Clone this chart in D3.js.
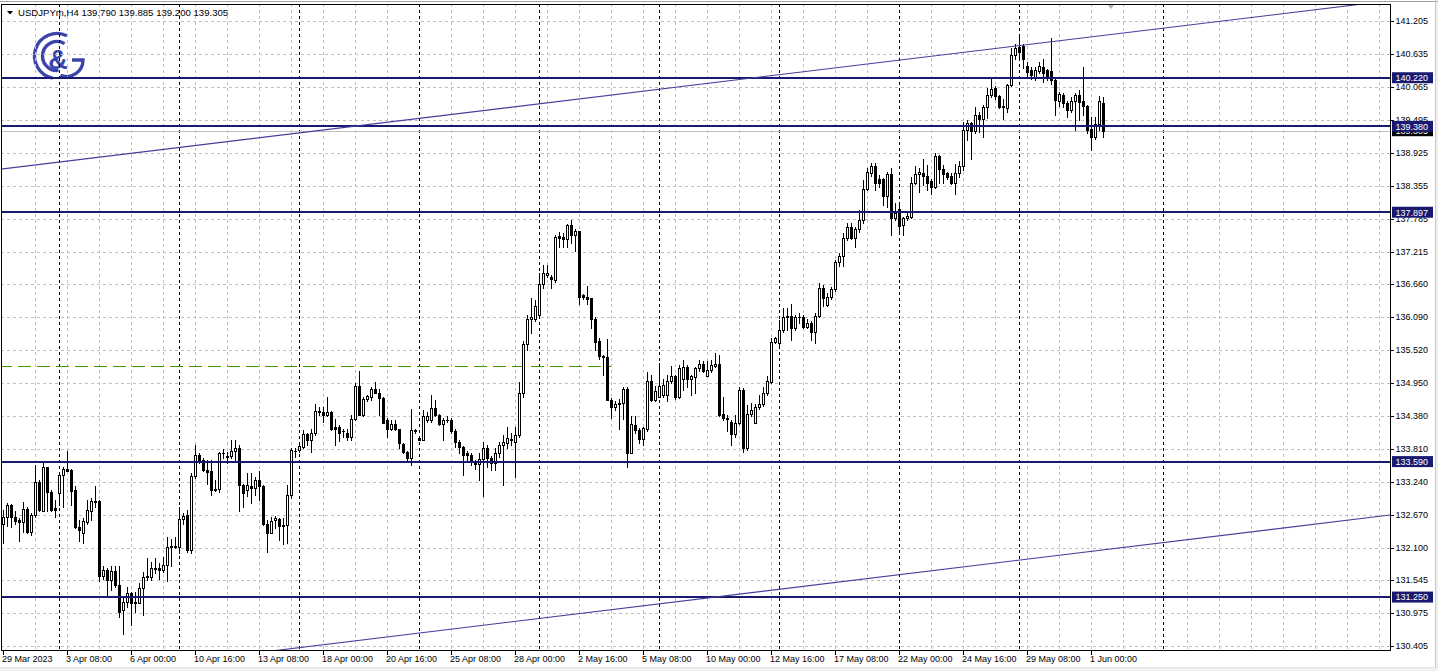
<!DOCTYPE html>
<html><head><meta charset="utf-8">
<script src="https://cdn.jsdelivr.net/npm/d3@7"></script>
<style>
html,body{margin:0;padding:0;background:#fff;overflow:hidden;}
svg{display:block;font-family:"Liberation Sans",Arial,sans-serif;}
</style></head><body>
<svg id="c" width="1438" height="671"></svg>
<script>
// ---------------- data ----------------
const symbolName = "USDJPYm,H4";
const headerValues = ["139.790", "139.885", "139.200", "139.305"];

const open = [
132.52,132.64,132.84,132.64,132.58,132.55,132.77,132.38,132.67,133.24,
132.74,133.49,133.07,132.78,133.04,133.36,133.47,133.45,133.10,132.46,
132.35,132.55,132.74,132.91,132.91,131.61,131.71,131.55,131.70,131.46,
131.03,131.17,131.32,131.17,131.15,131.40,131.59,131.60,131.74,131.75,
131.71,131.80,132.12,132.13,132.12,132.59,132.67,132.06,133.34,133.70,
133.62,133.45,133.42,133.10,133.11,133.73,133.67,133.69,133.78,133.82,
133.19,133.10,133.16,133.13,133.27,133.16,132.52,132.36,132.58,132.59,
132.48,132.50,133.01,133.77,133.79,133.85,134.06,133.97,134.08,134.46,
134.44,134.39,134.44,134.19,134.19,134.12,134.09,134.01,134.32,134.90,
134.40,134.67,134.71,134.84,134.78,134.68,134.31,134.16,134.24,134.15,
133.89,133.76,133.65,134.14,133.99,133.97,134.30,134.30,134.51,134.40,
134.24,134.31,134.31,134.11,133.92,133.84,133.74,133.70,133.59,133.55,
133.63,133.82,133.66,133.56,133.73,133.88,133.91,133.97,133.92,134.05,
134.77,135.62,136.06,136.06,136.12,136.66,136.81,136.77,136.73,137.48,
137.47,137.43,137.68,137.50,137.57,136.47,136.44,136.41,136.06,135.68,
135.41,135.40,134.66,134.53,134.59,134.61,134.84,133.74,134.22,134.14,
133.98,134.15,134.98,134.65,134.71,134.74,134.74,134.99,135.07,134.71,
135.01,135.22,135.01,135.05,135.20,135.28,135.07,135.17,135.24,135.28,
134.41,134.35,134.28,134.07,134.25,134.83,133.82,134.42,134.26,134.53,
134.58,134.77,134.97,135.66,135.63,135.86,136.08,136.10,135.89,136.08,
136.09,135.92,135.98,135.83,136.10,136.58,136.30,136.43,136.57,137.04,
137.14,137.46,137.64,137.45,137.60,137.77,138.29,138.58,138.70,138.47,
138.47,138.17,138.56,137.79,137.95,137.68,137.79,137.81,138.41,138.56,
138.57,138.52,138.43,138.33,138.87,138.64,138.57,138.52,138.41,138.57,
138.70,139.32,139.43,139.30,139.58,139.50,139.72,139.92,140.04,139.90,
139.73,139.69,140.09,140.61,140.75,140.77,140.42,140.35,140.21,140.34,
140.40,140.35,140.34,140.18,139.82,139.92,139.78,139.66,139.81,139.93,
139.82,139.73,139.33,139.19,139.42,139.79];

const high = [
132.75,132.87,132.86,132.73,132.61,132.90,132.81,132.70,133.53,133.27,
133.59,133.50,133.10,132.93,133.39,133.50,133.78,133.47,133.16,132.58,
132.61,132.93,132.96,133.16,132.93,131.78,131.75,131.78,131.78,131.79,
131.26,131.43,131.34,131.34,131.49,131.69,131.92,131.86,131.92,131.83,
131.95,132.29,132.26,132.29,132.81,132.71,132.75,133.39,133.88,133.73,
133.65,133.62,133.62,133.27,133.76,133.80,133.76,133.96,133.96,133.88,
133.21,133.39,133.39,133.33,133.42,133.19,132.58,132.64,132.65,132.61,
132.61,133.19,133.82,133.82,133.90,134.14,134.08,134.16,134.59,134.54,
134.53,134.71,134.46,134.33,134.22,134.16,134.16,134.39,134.94,135.16,
134.71,134.74,134.88,134.97,134.84,134.71,134.34,134.31,134.31,134.16,
133.91,133.78,134.49,134.16,134.02,134.48,134.45,134.74,134.66,134.42,
134.34,134.37,134.34,134.15,133.96,133.86,133.78,133.73,133.62,133.73,
133.92,133.88,133.69,133.82,133.92,134.05,134.19,134.08,134.19,134.97,
135.68,136.12,136.41,136.38,136.84,136.99,136.99,136.81,137.50,137.56,
137.53,137.70,137.77,137.60,137.58,136.48,136.62,136.42,136.09,135.72,
135.43,135.70,134.68,134.63,134.67,134.88,134.87,134.37,134.37,134.17,
134.19,135.14,135.09,134.90,135.29,135.01,135.09,135.24,135.09,135.26,
135.35,135.26,135.09,135.22,135.35,135.32,135.32,135.35,135.47,135.43,
134.71,134.40,134.30,134.40,134.87,134.86,134.57,134.60,134.59,134.74,
134.88,135.06,135.72,135.75,136.04,136.24,136.24,136.32,136.12,136.15,
136.12,136.05,136.01,136.15,136.67,136.64,136.50,136.61,137.07,137.19,
137.53,137.71,137.71,137.64,137.94,138.45,138.66,138.74,138.74,138.54,
138.48,138.60,138.66,138.05,138.05,137.82,137.88,138.51,138.70,138.66,
138.81,138.71,138.47,138.92,138.89,138.71,138.60,138.57,138.73,138.79,
139.46,139.49,139.45,139.71,139.63,139.75,140.04,140.23,140.07,139.92,
139.85,140.12,140.73,140.81,140.96,140.80,140.50,140.41,140.41,140.50,
140.54,140.37,140.90,140.21,139.98,139.96,139.81,139.88,139.96,140.00,
140.41,139.75,139.55,139.55,139.90,139.885];

const low = [
132.18,132.47,132.46,132.52,132.21,132.38,132.36,132.32,132.64,132.73,
132.73,132.73,132.73,132.63,132.84,132.81,133.42,132.84,132.44,132.21,
132.18,132.52,132.58,132.81,131.52,131.57,131.29,131.37,131.43,130.91,
130.62,131.08,130.77,131.00,131.14,130.94,131.55,131.55,131.66,131.57,
131.69,131.52,131.78,132.09,132.01,132.52,132.03,132.01,133.30,133.56,
133.42,133.21,133.01,133.09,133.07,133.65,133.57,133.65,133.62,132.73,
132.81,133.00,132.87,133.01,132.93,132.50,132.02,132.35,132.44,132.24,
132.17,132.18,132.96,133.67,133.76,133.82,133.88,133.76,134.05,134.39,
134.28,134.37,134.14,133.88,133.95,134.02,133.96,133.96,134.30,134.39,
134.37,134.63,134.65,134.77,134.40,134.25,134.01,134.14,134.14,133.82,
133.73,133.59,133.53,134.08,133.96,133.96,134.28,134.28,134.37,134.22,
133.97,134.28,134.08,133.85,133.73,133.36,133.62,133.53,133.46,133.27,
133.00,133.50,133.44,133.44,133.67,133.19,133.82,133.88,133.33,134.02,
134.71,135.52,135.81,136.02,136.09,136.58,136.78,136.58,136.70,137.30,
137.30,137.30,137.36,137.23,136.31,136.39,136.31,135.89,135.52,135.36,
135.09,134.65,134.34,134.48,134.15,134.32,133.50,133.74,134.08,133.91,
133.88,134.11,134.63,134.63,134.70,134.70,134.64,134.95,134.67,134.68,
134.83,134.87,134.74,134.78,135.16,135.13,135.06,135.14,135.22,134.38,
134.31,134.11,133.88,134.01,134.24,133.76,133.79,134.37,134.25,134.49,
134.55,134.74,134.94,135.63,135.60,135.83,135.86,135.69,135.86,135.98,
135.89,135.89,135.69,135.64,136.08,136.27,136.27,136.39,136.54,136.96,
136.96,137.42,137.43,137.29,137.56,137.71,138.28,138.52,138.28,138.34,
138.02,137.99,137.50,137.76,137.52,137.50,137.76,137.79,138.38,138.25,
138.37,138.28,138.22,138.31,138.40,138.40,138.47,138.39,138.22,138.51,
138.62,139.14,138.81,139.26,139.29,139.19,139.52,139.88,139.86,139.69,
139.50,139.63,140.07,140.55,140.55,140.38,140.21,140.19,140.18,140.30,
140.15,140.18,140.12,139.58,139.73,139.71,139.55,139.63,139.32,139.49,
139.58,139.27,138.97,139.17,139.32,139.20];

const close = [
132.64,132.84,132.64,132.57,132.54,132.77,132.38,132.67,133.24,132.75,
133.49,133.07,132.75,132.75,133.36,133.47,133.43,133.09,132.46,132.40,
132.57,132.75,132.91,132.90,131.61,131.71,131.55,131.70,131.45,131.00,
131.17,131.32,131.15,131.15,131.40,131.59,131.61,131.75,131.76,131.71,
131.80,132.11,132.13,132.12,132.59,132.65,132.06,133.34,133.70,133.61,
133.45,133.41,133.10,133.11,133.73,133.74,133.69,133.78,133.82,133.19,
133.04,133.19,133.13,133.28,133.16,132.52,132.36,132.57,132.61,132.48,
132.50,133.01,133.79,133.78,133.86,134.06,133.96,134.08,134.46,134.44,
134.39,134.44,134.15,134.15,134.09,134.11,134.01,134.32,134.90,134.40,
134.67,134.72,134.84,134.78,134.68,134.26,134.16,134.24,134.15,133.91,
133.76,133.65,134.14,134.11,133.97,134.38,134.38,134.51,134.40,134.24,
134.31,134.30,134.11,133.92,133.84,133.70,133.70,133.59,133.55,133.63,
133.82,133.66,133.56,133.73,133.88,133.92,133.99,133.98,134.05,134.77,
135.62,136.06,136.08,136.28,136.66,136.84,136.85,136.74,137.47,137.46,
137.43,137.68,137.50,137.58,136.44,136.43,136.39,136.05,135.66,135.41,
135.40,134.65,134.53,134.59,134.61,134.84,133.74,134.24,134.13,133.98,
134.17,134.98,134.65,134.81,134.90,134.91,134.99,135.07,134.71,135.20,
135.22,135.01,135.06,135.20,135.28,135.16,135.17,135.26,135.28,134.40,
134.34,134.32,134.07,134.26,134.83,133.82,134.42,134.48,134.54,134.58,
134.77,134.99,135.66,135.72,135.86,136.09,136.10,135.89,136.08,136.09,
135.92,135.98,135.83,136.10,136.58,136.41,136.43,136.57,137.04,137.14,
137.46,137.64,137.45,137.60,137.77,138.29,138.60,138.70,138.41,138.41,
138.18,138.56,137.79,137.89,137.66,137.79,137.83,138.41,138.56,138.60,
138.52,138.41,138.33,138.87,138.64,138.56,138.51,138.41,138.57,138.70,
139.32,139.43,139.30,139.58,139.50,139.72,139.92,140.02,139.90,139.71,
139.71,140.09,140.61,140.73,140.67,140.54,140.32,140.27,140.35,140.42,
140.31,140.25,140.18,139.84,139.94,139.78,139.66,139.81,139.93,139.80,
139.73,139.32,139.19,139.42,139.81,139.305];

// time axis labels (one every 16 H4 bars)
const timeLabels = ["29 Mar 2023","3 Apr 08:00","6 Apr 00:00","10 Apr 16:00","13 Apr 08:00",
  "18 Apr 00:00","20 Apr 16:00","25 Apr 08:00","28 Apr 00:00","2 May 16:00","5 May 08:00",
  "10 May 00:00","12 May 16:00","17 May 08:00","22 May 00:00","24 May 16:00","29 May 08:00","1 Jun 00:00"];
const timeLabelBars = [0,16,32,48,64,80,96,112,128,144,160,176,192,208,224,240,256,272];

// price scale labels
const priceTicks = [141.205,140.635,140.065,139.495,138.925,138.355,137.785,137.215,136.660,
  136.090,135.520,134.950,134.380,133.810,133.240,132.670,132.100,131.545,130.975,130.405];

// horizontal support / resistance levels
const levels = [140.220, 139.380, 137.897, 133.590, 131.250];
const bidPrice = 139.305;
const greenLevel = {price: 135.24, fromBar: -1, toBar: 152};
// week separators (bar index of Monday 00:00)
const weekBars = [14,44,74,104,134,164,194,224,254,290];
// trend channel lines: [bar, price] anchor pairs
const upperTrend = [[-0.75, 138.640], [337.75, 141.476]];
const lowerTrend = [[69.25, 130.336], [346.75, 132.668]];

// ---------------- drawing ----------------
const W = 1438, H = 671;
const plot = {left: 1, right: 1390, top: 4, bottom: 650};
const svg = d3.select("#c");

const x = d3.scaleLinear().domain([0, 275]).range([3, 1103]);
const y = d3.scaleLinear().domain([130.405, 141.205]).range([646, 20.7]);

const INK = "#000", NAVY = "#191970", GRID = "#c0c0c0";

// background & outer frame
svg.append("rect").attr("width", W).attr("height", H).attr("fill", "#fff");
svg.append("rect").attr("x", 0).attr("y", 668).attr("width", W).attr("height", 3).attr("fill", "#f0f0f0");
svg.append("rect").attr("x", 1436).attr("y", 0).attr("width", 2).attr("height", H).attr("fill", "#f0f0f0");
svg.append("line").attr("x1", 0).attr("x2", W).attr("y1", 1.5).attr("y2", 1.5).attr("stroke", "#a0a0a0");
svg.append("line").attr("x1", 1435.5).attr("x2", 1435.5).attr("y1", 0).attr("y2", 668).attr("stroke", "#c8c8c8");
svg.append("line").attr("x1", 0).attr("x2", W).attr("y1", 667.5).attr("y2", 667.5).attr("stroke", "#e0e0e0");

svg.append("defs").append("clipPath").attr("id", "plotclip")
  .append("rect").attr("x", plot.left).attr("y", plot.top)
  .attr("width", plot.right - plot.left).attr("height", plot.bottom - plot.top);

const g = svg.append("g").attr("clip-path", "url(#plotclip)");

// logo
const logo = g.append("g").attr("fill", "none").attr("stroke", "#3c44aa").attr("stroke-width", 3.4);
const arc = d3.arc();
logo.append("path").attr("transform", "translate(57,56)")
  .attr("d", arc({innerRadius: 22.3, outerRadius: 22.3, startAngle: 0.45, endAngle: 2 * Math.PI - 2.9}))
  .attr("stroke-linecap", "butt");
function ring(cx, cy, r, a0, a1) {
  const p = d3.path();
  p.arc(cx, cy, r, a0, a1, false);
  return p.toString();
}
logo.selectAll("*").remove();
// outer C (from ~1 o'clock counter-clockwise round to 6 o'clock)
logo.append("path").attr("d", (() => { const p = d3.path(); p.arc(57, 56, 22.5, -Math.PI / 2 + 0.45, Math.PI / 2 + 0.2, true); return p.toString(); })());
// inner C
logo.append("path").attr("d", (() => { const p = d3.path(); p.arc(57, 56, 14.5, -Math.PI / 2 + 0.55, Math.PI / 2 - 0.1, true); return p.toString(); })());
// G hook on the right
logo.append("path").attr("d", (() => { const p = d3.path(); p.moveTo(72, 60); p.lineTo(83, 60); p.arc(66.5, 60, 16.5, 0, Math.PI * 0.62, false); return p.toString(); })());
logo.append("text").attr("x", 58).attr("y", 69).attr("text-anchor", "middle")
  .attr("font-size", 27).attr("font-weight", "bold").attr("fill", "#3c44aa").attr("stroke", "none")
  .attr("font-family", "'Liberation Sans', Arial, sans-serif").text("&");

// horizontal grid
g.append("g").selectAll("line").data(priceTicks).join("line")
  .attr("x1", plot.left).attr("x2", plot.right)
  .attr("y1", d => Math.round(y(d)) + 0.5).attr("y2", d => Math.round(y(d)) + 0.5)
  .attr("stroke", GRID).attr("stroke-dasharray", "3,3");

// vertical grid every 8 bars
const gridBars = d3.range(8, 352, 8);
g.append("g").selectAll("line").data(gridBars).join("line")
  .attr("x1", d => Math.round(x(d)) + 0.5).attr("x2", d => Math.round(x(d)) + 0.5)
  .attr("y1", plot.top).attr("y2", plot.bottom)
  .attr("stroke", GRID).attr("stroke-dasharray", "3,3");

// week separators
g.append("g").selectAll("line").data(weekBars).join("line")
  .attr("x1", d => Math.round(x(d)) + 0.5).attr("x2", d => Math.round(x(d)) + 0.5)
  .attr("y1", plot.top).attr("y2", plot.bottom)
  .attr("stroke", INK).attr("stroke-dasharray", "3,3");

// bid line
g.append("line").attr("x1", plot.left).attr("x2", plot.right)
  .attr("y1", Math.round(y(bidPrice)) + 0.5).attr("y2", Math.round(y(bidPrice)) + 0.5)
  .attr("stroke", "#c0c0c0");

// green dashed level
g.append("line").attr("x1", x(greenLevel.fromBar)).attr("x2", x(greenLevel.toBar))
  .attr("y1", Math.round(y(greenLevel.price)) + 0.5).attr("y2", Math.round(y(greenLevel.price)) + 0.5)
  .attr("stroke", "#3f9a00").attr("stroke-dasharray", "13,6");

// candles
const bars = d3.range(open.length).map(i => ({
  i, o: open[i], c: close[i],
  h: Math.max(high[i], open[i], close[i]), l: Math.min(low[i], open[i], close[i])
}));
const cg = g.append("g");
cg.selectAll("line.wick").data(bars).join("line").attr("class", "wick")
  .attr("x1", d => Math.round(x(d.i)) + 0.5).attr("x2", d => Math.round(x(d.i)) + 0.5)
  .attr("y1", d => Math.round(y(d.h))).attr("y2", d => Math.round(y(d.l)) + 1)
  .attr("stroke", INK);
bars.forEach(d => {
  const xc = Math.round(x(d.i));
  const top = Math.round(y(Math.max(d.o, d.c)));
  const bot = Math.round(y(Math.min(d.o, d.c)));
  if (bot - top < 1) {
    cg.append("line").attr("x1", xc - 1).attr("x2", xc + 2)
      .attr("y1", top + 0.5).attr("y2", top + 0.5).attr("stroke", INK);
  } else {
    cg.append("rect").attr("x", xc - 0.5).attr("y", top + 0.5)
      .attr("width", 2).attr("height", bot - top)
      .attr("fill", d.c >= d.o ? "#fff" : INK).attr("stroke", INK);
  }
});

// horizontal levels
g.append("g").selectAll("line").data(levels).join("line")
  .attr("x1", plot.left).attr("x2", plot.right)
  .attr("y1", d => Math.round(y(d))).attr("y2", d => Math.round(y(d)))
  .attr("stroke", NAVY).attr("stroke-width", 2);

// trend lines (extended across the plot)
function extend(pair) {
  const [[b0, p0], [b1, p1]] = pair;
  const k = (p1 - p0) / (b1 - b0);
  const bA = x.invert(plot.left - 5), bB = x.invert(plot.right + 5);
  return [[x(bA), y(p0 + k * (bA - b0))], [x(bB), y(p0 + k * (bB - b0))]];
}
[upperTrend, lowerTrend].forEach(t => {
  const pts = extend(t);
  g.append("line").attr("x1", pts[0][0]).attr("y1", pts[0][1])
    .attr("x2", pts[1][0]).attr("y2", pts[1][1])
    .attr("stroke", "#483d9b").attr("stroke-width", 1.1);
});

// shift marker
svg.append("path").attr("d", "M1107,4 L1115,4 L1111,9 Z").attr("fill", "#b4b4b4");

// plot frame
svg.append("line").attr("x1", plot.left + 0.5).attr("x2", plot.left + 0.5).attr("y1", plot.top).attr("y2", plot.bottom + 1).attr("stroke", INK);
svg.append("line").attr("x1", plot.left).attr("x2", plot.right + 1).attr("y1", plot.top + 0.5).attr("y2", plot.top + 0.5).attr("stroke", INK);
svg.append("line").attr("x1", plot.right + 0.5).attr("x2", plot.right + 0.5).attr("y1", plot.top).attr("y2", plot.bottom + 1).attr("stroke", INK);
svg.append("line").attr("x1", plot.left).attr("x2", plot.right + 1).attr("y1", plot.bottom + 0.5).attr("y2", plot.bottom + 0.5).attr("stroke", INK);

// price axis
const pa = svg.append("g");
pa.selectAll("line").data(priceTicks).join("line")
  .attr("x1", plot.right + 1).attr("x2", plot.right + 4)
  .attr("y1", d => Math.round(y(d)) + 0.5).attr("y2", d => Math.round(y(d)) + 0.5)
  .attr("stroke", INK);
pa.selectAll("text").data(priceTicks).join("text")
  .attr("x", 1395.5).attr("y", d => y(d) + 3.3)
  .attr("font-size", 9).attr("fill", INK).text(d => d.toFixed(3));

// bid price label (black), then level labels (navy)
function priceBox(v, fill) {
  const yc = y(v);
  svg.append("rect").attr("x", 1392).attr("y", yc - 5.5).attr("width", 41).attr("height", 11).attr("fill", fill);
  svg.append("text").attr("x", 1395.5).attr("y", yc + 3.3).attr("font-size", 9).attr("fill", "#fff").text(v.toFixed(3));
}
priceBox(bidPrice, INK);
levels.forEach(v => priceBox(v, NAVY));

// time axis
const ta = svg.append("g");
ta.selectAll("line").data(timeLabelBars).join("line")
  .attr("x1", d => Math.round(x(d)) + 0.5).attr("x2", d => Math.round(x(d)) + 0.5)
  .attr("y1", plot.bottom + 1).attr("y2", plot.bottom + 5).attr("stroke", INK);
ta.selectAll("text").data(timeLabelBars).join("text")
  .attr("x", d => x(d) - 1).attr("y", 662)
  .attr("font-size", 9).attr("fill", INK).text((d, i) => timeLabels[i]);

// header
svg.append("path").attr("d", "M7,11 L13,11 L10,14.5 Z").attr("fill", INK);
svg.append("text").attr("x", 18).attr("y", 16).attr("font-size", 9.6).attr("fill", INK)
  .attr("xml:space", "preserve")
  .text(symbolName + " " + headerValues.join(" "));
</script>
</body></html>
